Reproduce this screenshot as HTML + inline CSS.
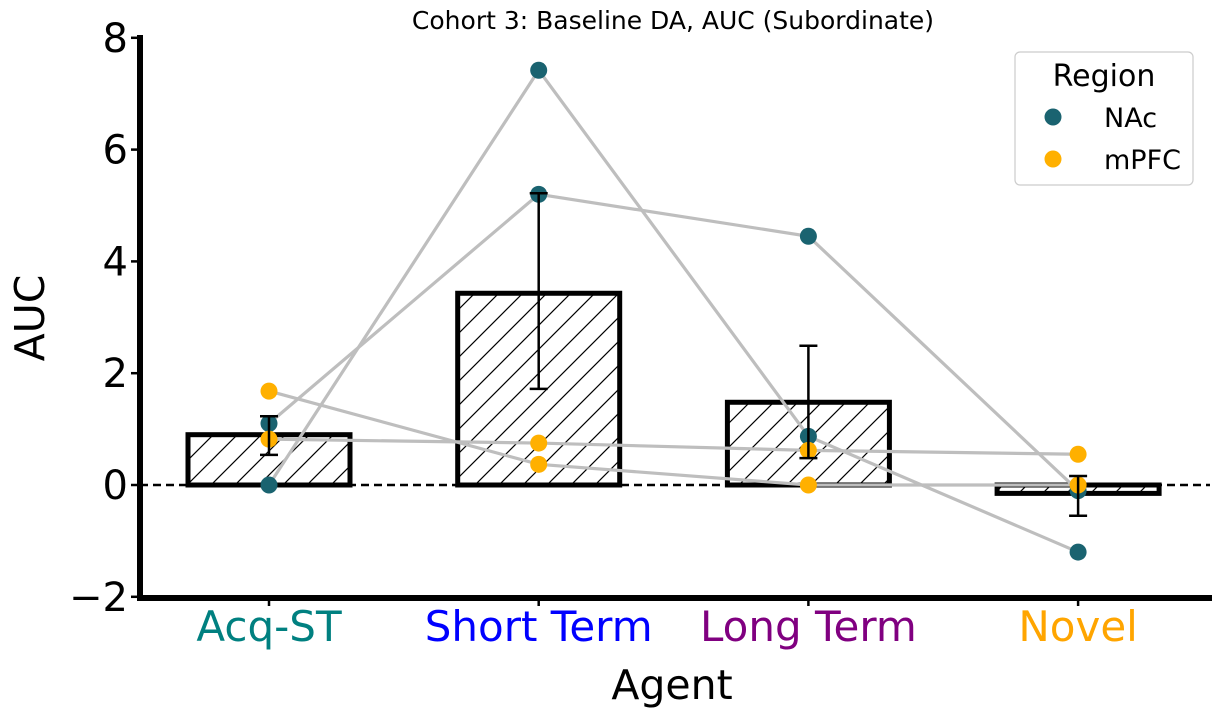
<!DOCTYPE html>
<html><head><meta charset="utf-8"><style>
body{margin:0;background:#fff;}
svg{font-family:"DejaVu Sans","Liberation Sans",sans-serif;display:block}
</style></head><body>
<svg id="chart" width="1217" height="717" viewBox="0 0 1217 717" xmlns="http://www.w3.org/2000/svg">
<defs>
<pattern id="hatch" patternUnits="userSpaceOnUse" width="24" height="24">
<path d="M-6,30 L30,-6 M-6,6 L6,-6 M18,30 L30,18" stroke="#000" stroke-width="1.2"/>
</pattern>
</defs>
<text x="673" y="29" font-size="25" text-anchor="middle">Cohort 3: Baseline DA, AUC (Subordinate)</text>
<g id="plot"></g>
<text x="672" y="699" font-size="41" text-anchor="middle">Agent</text>
<text transform="translate(44,318) rotate(-90)" font-size="41" text-anchor="middle">AUC</text>
<g>
<rect x="1015" y="52" width="178" height="133" rx="5" fill="#fff" stroke="#ccc" stroke-width="1.2"/>
<text x="1104" y="86" font-size="30" text-anchor="middle">Region</text>
<circle cx="1053" cy="117" r="8.5" fill="#1a6370"/>
<text x="1104" y="127" font-size="27">NAc</text>
<circle cx="1053" cy="159" r="8.5" fill="#ffb000"/>
<text x="1104" y="169" font-size="27">mPFC</text>
</g>
</svg>
<script>
const categories=["Acq-ST","Short Term","Long Term","Novel"];
const catColors=["#008080","#0000ff","#800080","#ffa500"];
const barMeans=[0.9,3.43,1.48,-0.15];
const errLow=[0.54,1.72,0.48,-0.55];
const errHigh=[1.23,5.22,2.49,0.16];
const nacA=[0.0,7.42,0.87,-1.2];
const nacB=[1.1,5.2,4.45,-0.1];
const pfcA=[1.68,0.37,0.0,0.0];
const pfcB=[0.82,0.75,0.62,0.55];
const yTicks=[-2,0,2,4,6,8];
const yTickLabels=["\u22122","0","2","4","6","8"];

const y=v=>485-v*55.9;
const x=i=>269+i*269.7;
const NS="http://www.w3.org/2000/svg";
const g=document.getElementById('plot');
function mk(tag,attrs,parent){const e=document.createElementNS(NS,tag);for(const k in attrs)e.setAttribute(k,attrs[k]);(parent||g).appendChild(e);return e;}

barMeans.forEach((v,i)=>{
  const top=Math.min(y(v),y(0)),h=Math.abs(y(v)-y(0));
  const r=mk('rect',{x:x(i)-81,y:top,width:162,height:h,fill:'url(#hatch)',stroke:'#000','stroke-width':5});
  
  
});
mk('line',{x1:140,x2:1210,y1:y(0),y2:y(0),stroke:'#000','stroke-width':2.5,'stroke-dasharray':'8,5'});
[nacA,nacB,pfcA,pfcB].forEach((s,k)=>{
  const p=mk('polyline',{points:s.map((v,i)=>x(i)+','+y(v)).join(' '),fill:'none',stroke:'#bebebe','stroke-width':3.2});
  
  
});
[[nacA,'#1a6370','nac'],[nacB,'#1a6370','nac'],[pfcA,'#ffb000','mpfc'],[pfcB,'#ffb000','mpfc']].forEach(([s,c,n])=>{
  s.forEach((v,i)=>{
    const pt=mk('circle',{cx:x(i),cy:y(v),r:8.5,fill:c});
    
    
  });
});
errLow.forEach((lo,i)=>{
  const eg=mk('g',{stroke:'#000','stroke-width':2.5});
  
  
  mk('line',{x1:x(i),x2:x(i),y1:y(lo),y2:y(errHigh[i])},eg);
  mk('line',{x1:x(i)-9,x2:x(i)+9,y1:y(lo),y2:y(lo)},eg);
  mk('line',{x1:x(i)-9,x2:x(i)+9,y1:y(errHigh[i]),y2:y(errHigh[i])},eg);
});
mk('line',{x1:140,x2:140,y1:35,y2:601,stroke:'#000','stroke-width':6});
mk('line',{x1:137,x2:1212,y1:598,y2:598,stroke:'#000','stroke-width':6});
yTicks.forEach((t,i)=>{
  mk('line',{x1:131,x2:140,y1:y(t),y2:y(t),stroke:'#000','stroke-width':2.5});
  const tx=mk('text',{x:128,y:y(t)+14,'font-size':40,'text-anchor':'end'});
  tx.textContent=yTickLabels[i];
  
  
});
categories.forEach((c,i)=>{
  mk('line',{x1:x(i),x2:x(i),y1:598,y2:606,stroke:'#000','stroke-width':2.5});
  const tx=mk('text',{x:x(i),y:641,'font-size':42,'text-anchor':'middle',fill:catColors[i]});
  tx.textContent=c;
  
  
});
</script>
</body></html>
